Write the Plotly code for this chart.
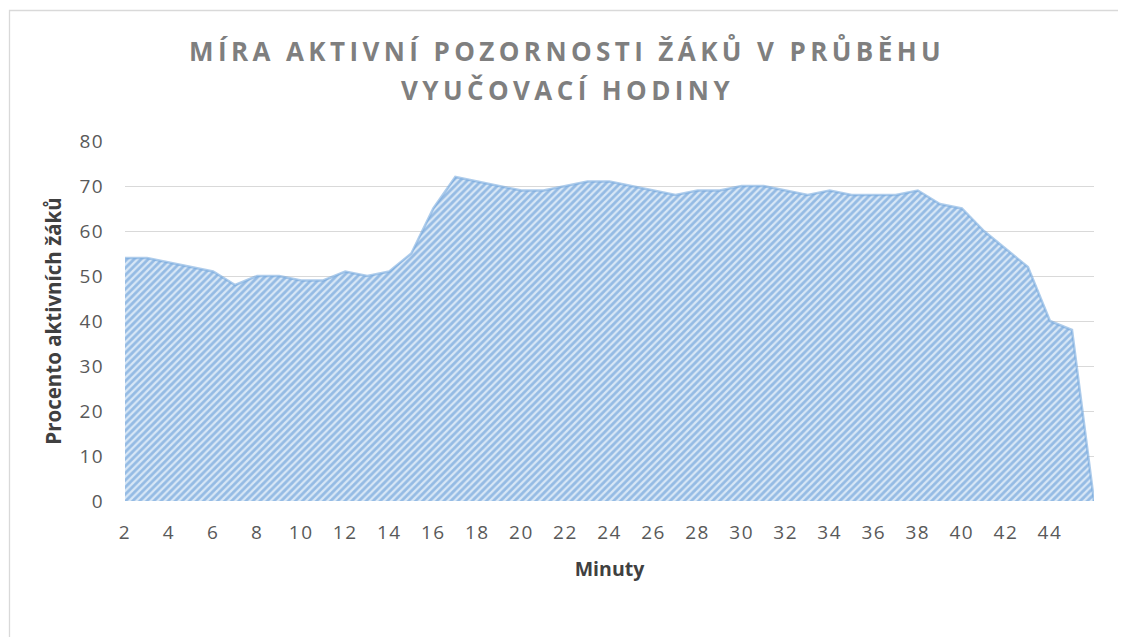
import plotly.graph_objects as go

minutes = list(range(2, 47))
attention = [54, 54, 53, 52, 51, 48, 50, 50, 49, 49, 51, 50, 51, 55, 65, 72, 71, 70, 69, 69,
             70, 71, 71, 70, 69, 68, 69, 69, 70, 70, 69, 68, 69, 68, 68, 68, 69, 66, 65, 60,
             56, 52, 40, 38, 0]
x_ticks = list(range(2, 45, 2))
y_ticks = list(range(0, 81, 10))

title_lines = ["MÍRA AKTIVNÍ POZORNOSTI ŽÁKŮ V PRŮBĚHU", "VYUČOVACÍ HODINY"]

OFF = 8  # page body margin offset
L, R, T, B = 125 - OFF, 40, 141 - OFF, 144
W, H = 1126, 637
pw, ph = W - L - R, H - T - B

fig = go.Figure()
fig.add_trace(go.Scatter(
    x=minutes, y=attention, mode="lines", fill="tozeroy",
    line=dict(color="rgba(120,170,222,0.6)", width=2.5),
    fillcolor="#d6e6f6",
    fillpattern=dict(shape="/", fgcolor="#5290d2", bgcolor="#d8e7f6", size=5, solidity=0.55),
    hoverinfo="x+y", showlegend=False,
))

sp = '<span style="letter-spacing:4.4px">'
ls = '<span style="letter-spacing:1.5px">'

# title lines as annotations (page y centres ~51 and ~90)
for line, yc in zip(title_lines, [51, 90]):
    fig.add_annotation(
        text=f"{sp}<b>{line}</b></span>", xref="paper", yref="paper",
        x=(567 - OFF - L) / pw, y=1 + (T - (yc - OFF)) / ph,
        xanchor="center", yanchor="middle", showarrow=False,
        font=dict(family="Open Sans", size=26, color="#7f7f7f"),
    )

fig.update_layout(
    width=W, height=H,
    margin=dict(l=L, r=R, t=T, b=B),
    paper_bgcolor="white", plot_bgcolor="white",
    font=dict(family="Open Sans", color="#595959"),
    xaxis=dict(
        range=[2, 46], tickvals=x_ticks,
        ticktext=[f'{ls}{v}</span>' for v in x_ticks],
        showgrid=False, zeroline=False, showline=False,
        ticks="outside", ticklen=14, tickcolor="rgba(0,0,0,0)",
        tickfont=dict(size=19, color="#595959"),
        title=dict(text="<b>Minuty</b>", font=dict(size=19.5, color="#404040"), standoff=18),
    ),
    yaxis=dict(
        range=[0, 80], tickvals=y_ticks,
        ticktext=[f'{ls}{v}</span>' for v in y_ticks],
        showgrid=True, gridcolor="#d9d9d9", gridwidth=1.3,
        zeroline=False, showline=False,
        ticks="outside", ticklen=16, tickcolor="rgba(0,0,0,0)",
        tickfont=dict(size=19, color="#595959"),
        title=dict(text="<b>Procento aktivních žáků</b>", font=dict(size=20.5, color="#404040"), standoff=12),
    ),
)

# outer chart border (only left/top edges visible in the frame)
fig.add_shape(type="rect", xref="paper", yref="paper",
              x0=(9.5 - OFF - L) / pw, x1=(W + 20 - L) / pw,
              y0=-(H + 20 - (T + ph)) / ph, y1=1 + (T - (10.5 - OFF)) / ph,
              line=dict(color="#d9d9d9", width=1.3), fillcolor="rgba(0,0,0,0)", layer="below")

fig.write_html("out.html")
